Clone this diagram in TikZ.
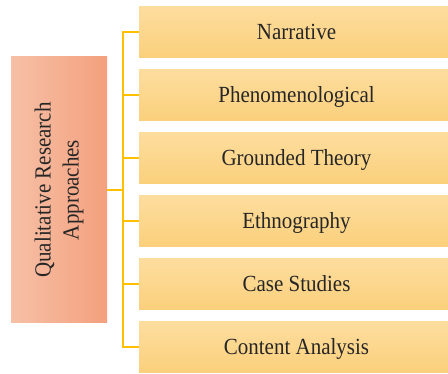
\documentclass[tikz,border=0pt]{standalone}
\usepackage{fontspec}
\setmainfont{Liberation Serif}
\definecolor{itemtop}{HTML}{FDDD9E}
\definecolor{itembot}{HTML}{FBD07C}
\definecolor{rootleft}{HTML}{F6C0A6}
\definecolor{rootright}{HTML}{F4A07E}
\definecolor{connc}{HTML}{FFC000}
\newcommand\vt[1]{\scalebox{1}[1.1]{#1}}
\begin{document}
\begin{tikzpicture}[x=1pt,y=-1pt]
\tikzset{
  item/.style={rectangle, draw=none, inner sep=0pt, minimum width=315pt, minimum height=51pt,
    top color=itemtop, bottom color=itembot, text height=19pt, text depth=4pt,
    font=\fontsize{21}{24}\selectfont, text=black!85},
  rootbox/.style={rectangle, draw=none, inner sep=0pt, minimum width=96pt, minimum height=266pt,
    left color=rootleft, right color=rootright},
  roottxt/.style={rotate=90, align=center, inner sep=0pt, font=\fontsize{21}{28}\selectfont, text=black!85},
  conn/.style={draw=connc, line width=1.6pt}
}
\clip (0,0) rectangle (448,374);
\node[rootbox] (root) at (59,190) {};
\node[roottxt] (roottext) at (59,190) {\vt{Qualitative Research}\\\vt{Approaches}};
\node[item] (b1) at (296.5,32) {\vt{Narrative}};
\node[item] (b2) at (296.5,95) {\vt{Phenomenological}};
\node[item] (b3) at (296.5,158) {\vt{Grounded Theory}};
\node[item] (b4) at (296.5,221) {\vt{Ethnography}};
\node[item] (b5) at (296.5,284) {\vt{Case Studies}};
\node[item] (b6) at (296.5,347) {\vt{Content Analysis}};
\coordinate (spine) at (123,190);
\draw[conn] (root.east) -- (spine);
\foreach \i in {1,...,6} {\draw[conn] (spine) |- (b\i.west);}
\end{tikzpicture}
\end{document}
